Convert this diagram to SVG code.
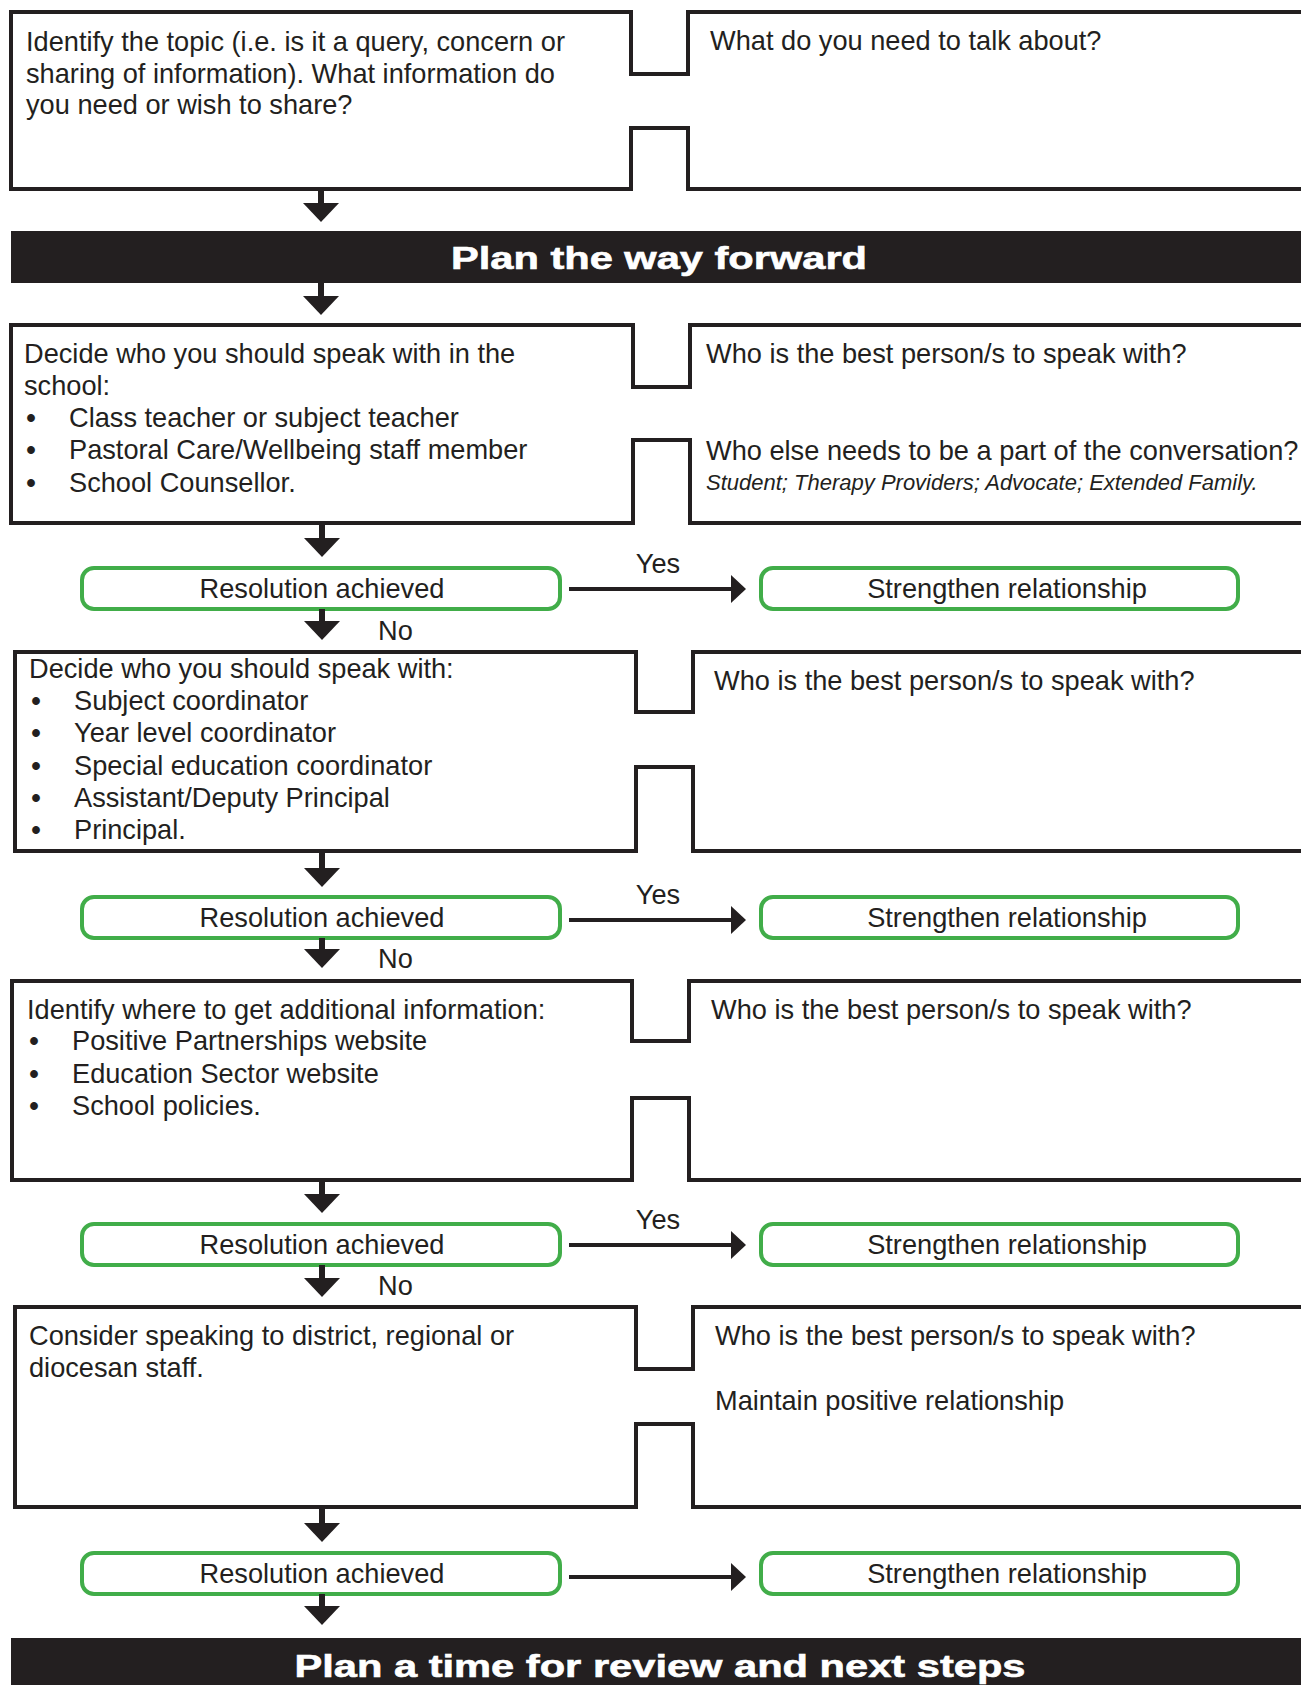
<svg xmlns="http://www.w3.org/2000/svg" width="1301" height="1685" viewBox="0 0 1301 1685">
<style>
  .box { fill: #ffffff; stroke: #231f20; stroke-width: 4; stroke-linejoin: miter; }
  .res { fill: #ffffff; stroke: #41ad49; stroke-width: 4; }
  .t { font-family: "Liberation Sans", Arial, Helvetica, sans-serif; font-size: 27.2px; fill: #231f20; }
  .b { font-family: "Liberation Sans", Arial, Helvetica, sans-serif; font-size: 27.2px; font-weight: bold; fill: #231f20; text-anchor: middle; }
  .it { font-family: "Liberation Sans", Arial, Helvetica, sans-serif; font-size: 22px; font-style: italic; fill: #231f20; }
  .c { text-anchor: middle; }
  .ban { fill: #231f20; }
  .bt { font-family: "Liberation Sans", Arial, Helvetica, sans-serif; font-weight: bold; fill: #ffffff; text-anchor: middle; stroke: #ffffff; stroke-width: 0.6; }
  .stem { stroke: #231f20; stroke-width: 6; fill: none; }
  .hl { stroke: #231f20; stroke-width: 4; fill: none; }
  .head { fill: #231f20; }
</style>
<rect x="0" y="0" width="1301" height="1685" fill="#ffffff"/>

<g id="step1">
  <path class="box" d="M11,12 H631 V74 H688 V12 H1320 V189 H688 V128 H631 V189 H11 Z"/>
  <text class="t" x="26" y="51">Identify the topic (i.e. is it a query, concern or</text>
  <text class="t" x="26" y="83">sharing of information). What information do</text>
  <text class="t" x="26" y="114">you need or wish to share?</text>
  <text class="t" x="710" y="50">What do you need to talk about?</text>
</g>

<g id="banner-plan">
  <rect class="ban" x="11" y="231" width="1300" height="52"/>
  <text class="bt" x="659" y="269" font-size="31" textLength="416" lengthAdjust="spacingAndGlyphs">Plan the way forward</text>
</g>

<g id="step2">
  <path class="box" d="M11,325 H633 V387 H690 V325 H1320 V523 H690 V440 H633 V523 H11 Z"/>
  <text class="t" x="24" y="363">Decide who you should speak with in the</text>
  <text class="t" x="24" y="395">school:</text>
  <text class="b" x="31" y="427">•</text>
  <text class="t" x="69" y="427">Class teacher or subject teacher</text>
  <text class="b" x="31" y="459">•</text>
  <text class="t" x="69" y="459">Pastoral Care/Wellbeing staff member</text>
  <text class="b" x="31" y="492">•</text>
  <text class="t" x="69" y="492">School Counsellor.</text>
  <text class="t" x="706" y="363">Who is the best person/s to speak with?</text>
  <text class="t" x="706" y="460">Who else needs to be a part of the conversation?</text>
  <text class="it" x="706" y="490">Student; Therapy Providers; Advocate; Extended Family.</text>
</g>

<g id="res1">
  <rect class="res" x="82" y="568" width="478" height="41" rx="12"/>
  <text class="t c" x="322" y="598">Resolution achieved</text>
</g>
<g id="str1">
  <rect class="res" x="761" y="568" width="477" height="41" rx="12"/>
  <text class="t c" x="1007" y="598">Strengthen relationship</text>
</g>

<g id="step3">
  <path class="box" d="M15,652 H636 V712 H693 V652 H1320 V851 H693 V767 H636 V851 H15 Z"/>
  <text class="t" x="29" y="678">Decide who you should speak with:</text>
  <text class="b" x="36" y="710">•</text>
  <text class="t" x="74" y="710">Subject coordinator</text>
  <text class="b" x="36" y="742">•</text>
  <text class="t" x="74" y="742">Year level coordinator</text>
  <text class="b" x="36" y="775">•</text>
  <text class="t" x="74" y="775">Special education coordinator</text>
  <text class="b" x="36" y="807">•</text>
  <text class="t" x="74" y="807">Assistant/Deputy Principal</text>
  <text class="b" x="36" y="839">•</text>
  <text class="t" x="74" y="839">Principal.</text>
  <text class="t" x="714" y="690">Who is the best person/s to speak with?</text>
</g>

<g id="res2">
  <rect class="res" x="82" y="897" width="478" height="41" rx="12"/>
  <text class="t c" x="322" y="927">Resolution achieved</text>
</g>
<g id="str2">
  <rect class="res" x="761" y="897" width="477" height="41" rx="12"/>
  <text class="t c" x="1007" y="927">Strengthen relationship</text>
</g>

<g id="step4">
  <path class="box" d="M12,981 H632 V1041 H689 V981 H1320 V1180 H689 V1098 H632 V1180 H12 Z"/>
  <text class="t" x="27" y="1019">Identify where to get additional information:</text>
  <text class="b" x="34" y="1050">•</text>
  <text class="t" x="72" y="1050">Positive Partnerships website</text>
  <text class="b" x="34" y="1083">•</text>
  <text class="t" x="72" y="1083">Education Sector website</text>
  <text class="b" x="34" y="1115">•</text>
  <text class="t" x="72" y="1115">School policies.</text>
  <text class="t" x="711" y="1019">Who is the best person/s to speak with?</text>
</g>

<g id="res3">
  <rect class="res" x="82" y="1224" width="478" height="41" rx="12"/>
  <text class="t c" x="322" y="1254">Resolution achieved</text>
</g>
<g id="str3">
  <rect class="res" x="761" y="1224" width="477" height="41" rx="12"/>
  <text class="t c" x="1007" y="1254">Strengthen relationship</text>
</g>

<g id="step5">
  <path class="box" d="M15,1307 H636 V1369 H693 V1307 H1320 V1507 H693 V1424 H636 V1507 H15 Z"/>
  <text class="t" x="29" y="1345">Consider speaking to district, regional or</text>
  <text class="t" x="29" y="1377">diocesan staff.</text>
  <text class="t" x="715" y="1345">Who is the best person/s to speak with?</text>
  <text class="t" x="715" y="1410">Maintain positive relationship</text>
</g>

<g id="res4">
  <rect class="res" x="82" y="1553" width="478" height="41" rx="12"/>
  <text class="t c" x="322" y="1583">Resolution achieved</text>
</g>
<g id="str4">
  <rect class="res" x="761" y="1553" width="477" height="41" rx="12"/>
  <text class="t c" x="1007" y="1583">Strengthen relationship</text>
</g>

<g id="banner-review">
  <rect class="ban" x="11" y="1638" width="1300" height="60"/>
  <text class="bt" x="660" y="1677" font-size="32" textLength="731" lengthAdjust="spacingAndGlyphs">Plan a time for review and next steps</text>
</g>

<g id="connectors">
  <path class="stem" d="M321,189 V204"/><path class="head" d="M303,203 H339 L321,222 Z"/>
  <path class="stem" d="M321,283 V297"/><path class="head" d="M303,296 H339 L321,315 Z"/>
  <path class="stem" d="M322,523 V539"/><path class="head" d="M304,538 H340 L322,557 Z"/>
  <path class="stem" d="M322,609 V622"/><path class="head" d="M304,621 H340 L322,640 Z"/>
  <path class="stem" d="M322,851 V869"/><path class="head" d="M304,868 H340 L322,887 Z"/>
  <path class="stem" d="M322,938 V950"/><path class="head" d="M304,949 H340 L322,968 Z"/>
  <path class="stem" d="M322,1180 V1195"/><path class="head" d="M304,1194 H340 L322,1213 Z"/>
  <path class="stem" d="M322,1265 V1279"/><path class="head" d="M304,1278 H340 L322,1297 Z"/>
  <path class="stem" d="M322,1507 V1524"/><path class="head" d="M304,1523 H340 L322,1542 Z"/>
  <path class="stem" d="M322,1594 V1607"/><path class="head" d="M304,1606 H340 L322,1625 Z"/>
  <path class="hl" d="M569,589 H733"/><path class="head" d="M731,575 L746,589 L731,603 Z"/>
  <path class="hl" d="M569,920 H733"/><path class="head" d="M731,906 L746,920 L731,934 Z"/>
  <path class="hl" d="M569,1245 H733"/><path class="head" d="M731,1231 L746,1245 L731,1259 Z"/>
  <path class="hl" d="M569,1577 H733"/><path class="head" d="M731,1563 L746,1577 L731,1591 Z"/>
  <text class="t c" x="658" y="573">Yes</text>
  <text class="t c" x="658" y="904">Yes</text>
  <text class="t c" x="658" y="1229">Yes</text>
  <text class="t" x="378" y="640">No</text>
  <text class="t" x="378" y="968">No</text>
  <text class="t" x="378" y="1295">No</text>
</g>
</svg>
